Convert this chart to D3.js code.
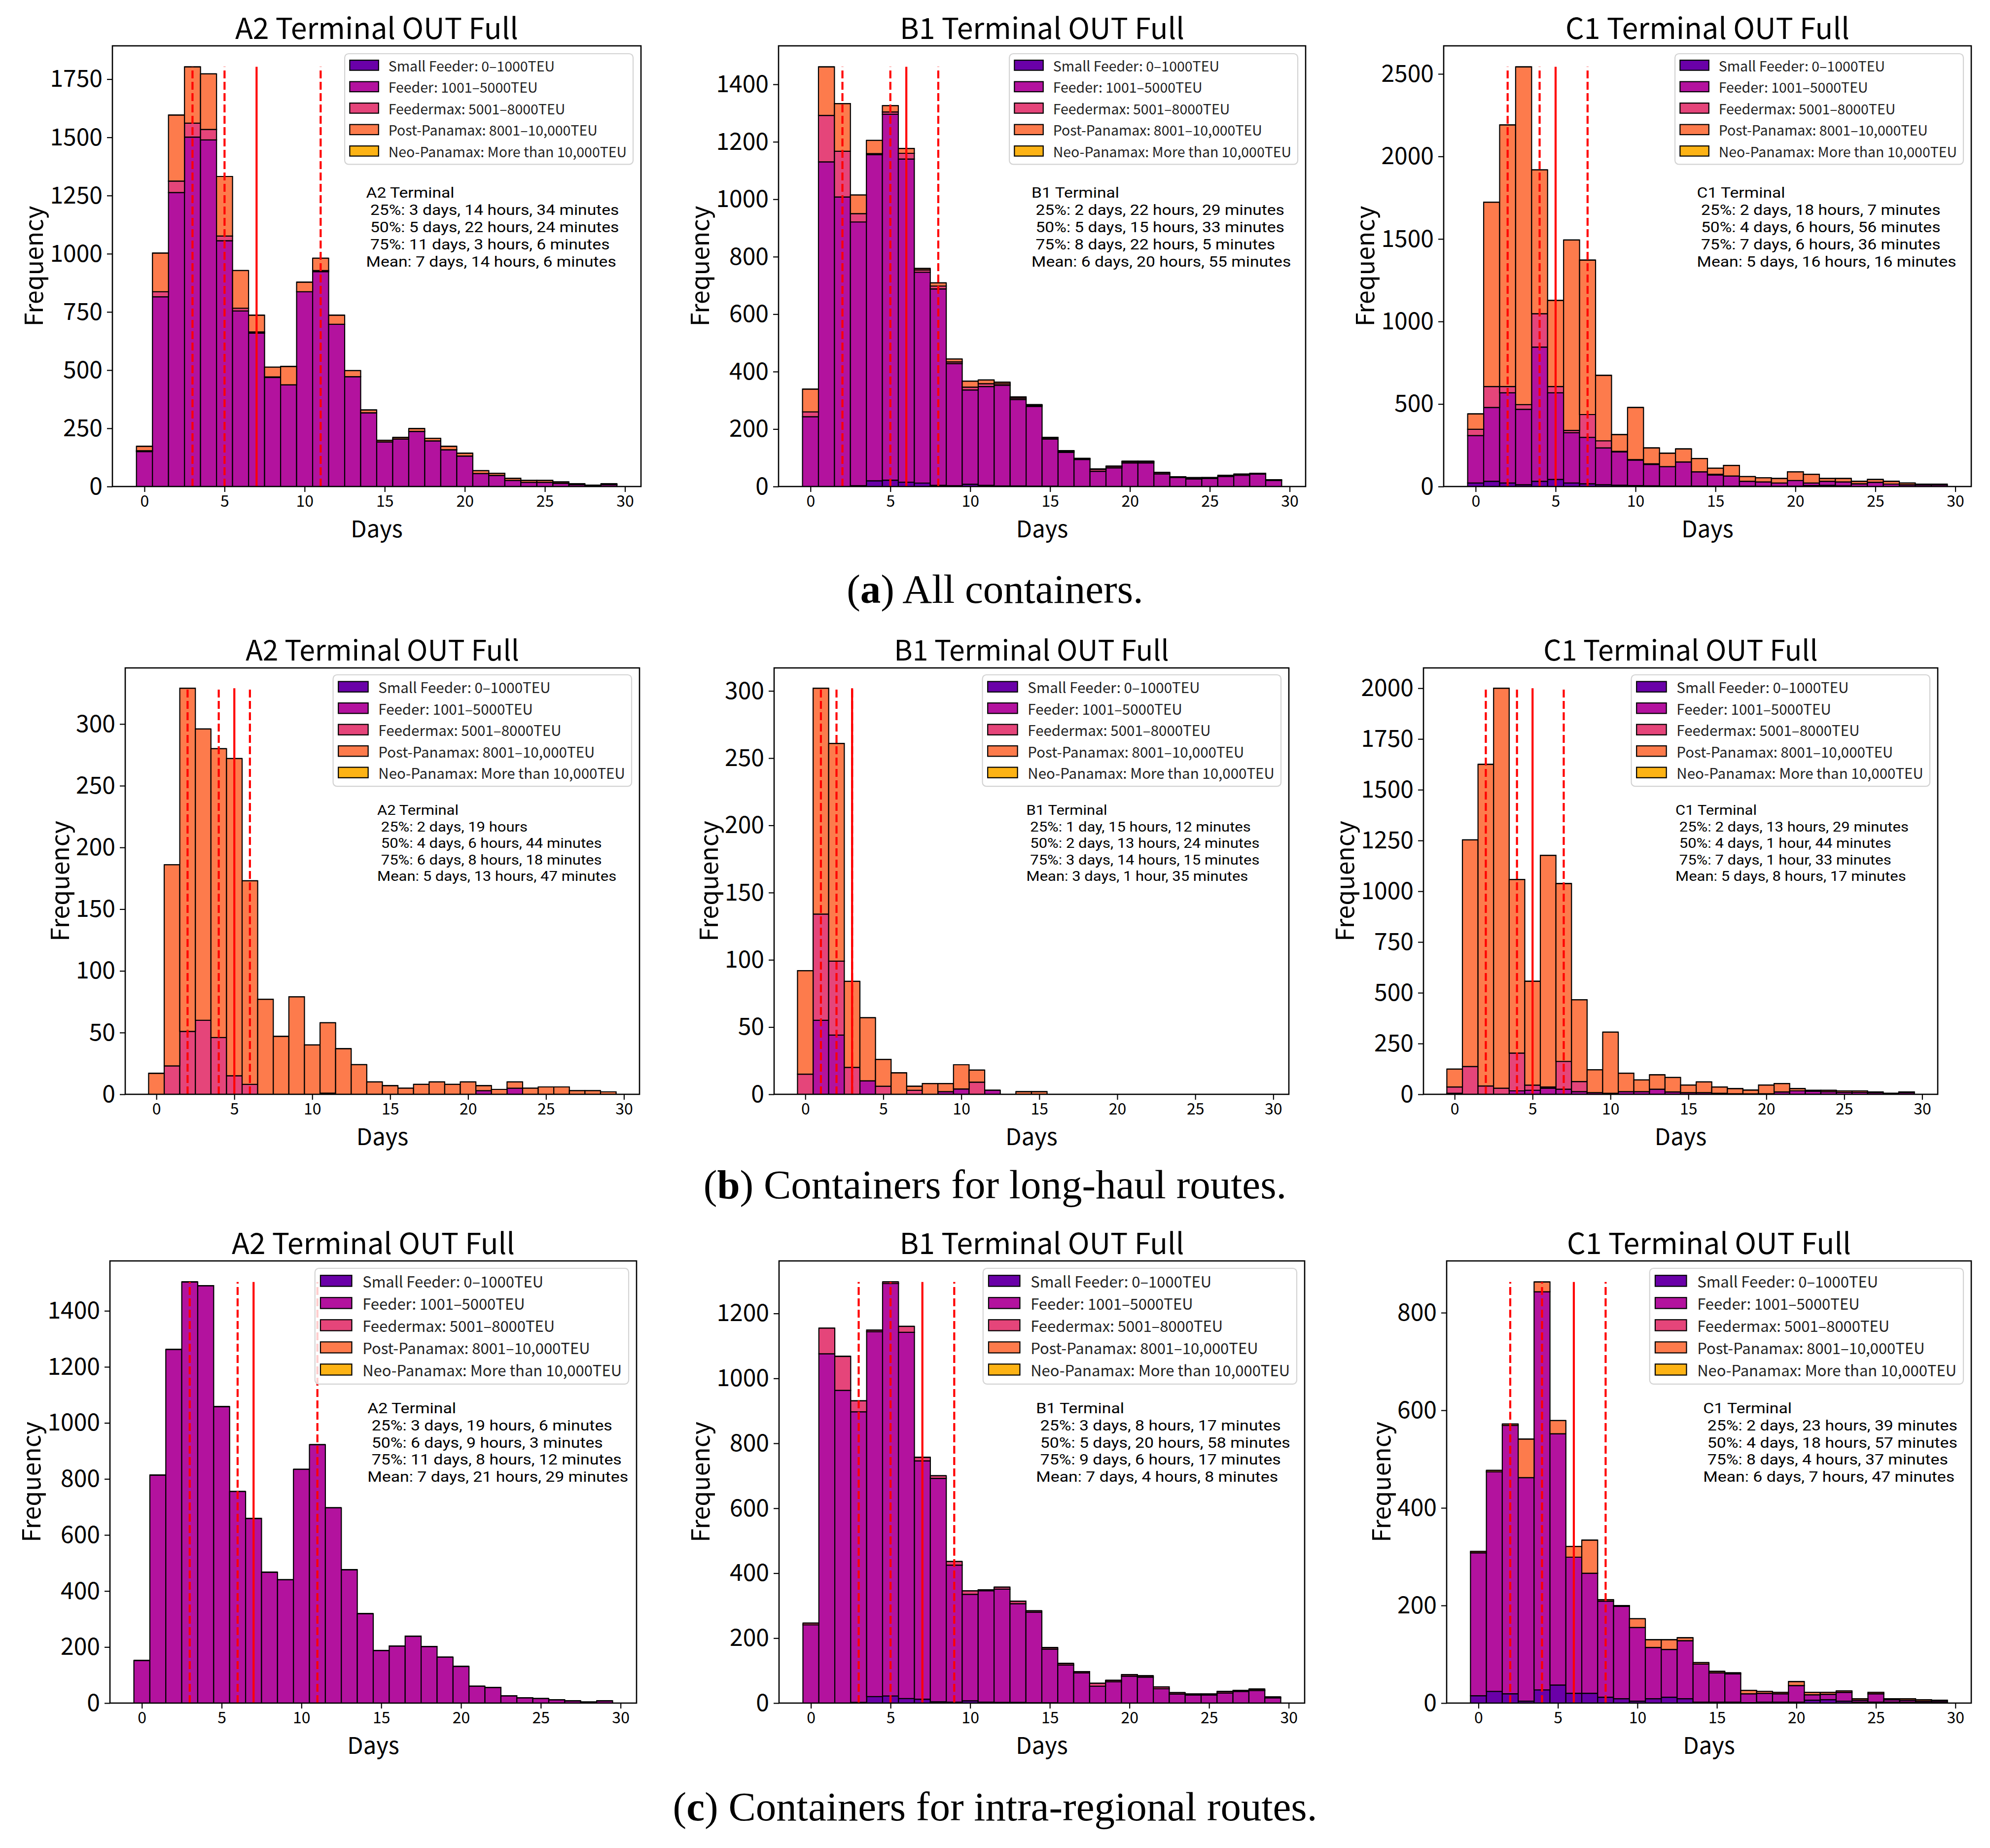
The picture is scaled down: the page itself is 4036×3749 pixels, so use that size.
<!DOCTYPE html>
<html><head><meta charset="utf-8">
<script src="https://cdn.jsdelivr.net/npm/d3@7"></script>
<style>body{margin:0;background:#fff}svg{display:block}</style>
</head><body>
<svg id="chart" width="4036" height="3749"></svg>
<script>
// ---------------- DATA ----------------
const bins = [0,1,2,3,4,5,6,7,8,9,10,11,12,13,14,15,16,17,18,19,20,21,22,23,24,25,26,27,28,29];
const xTicks = [0,5,10,15,20,25,30];
const seriesNames = ["Small Feeder: 0\u20131000TEU","Feeder: 1001\u20135000TEU","Feedermax: 5001\u20138000TEU","Post-Panamax: 8001\u201310,000TEU","Neo-Panamax: More than 10,000TEU"];
const none = [0,0,0,0,0,0,0,0,0,0,0,0,0,0,0,0,0,0,0,0,0,0,0,0,0,0,0,0,0,0];

// (a) All containers
const A2all_F  = [150,815,1263,1501,1489,1056,754,659,468,437,837,923,697,472,317,192,204,237,196,158,131,56,48,26,18,18,14,8,3,8];
const A2all_FM = [4,22,49,60,45,20,12,5,3,0,0,5,0,0,0,0,0,0,0,0,0,0,0,0,0,0,0,0,0,0];
const A2all_PP = [19,166,284,242,239,256,162,72,42,79,41,53,39,26,12,7,7,12,11,15,12,12,9,9,8,8,6,4,3,4];

const B1all_SF = [0,0,0,3,20,22,15,12,4,3,8,4,2,2,1,1,0,0,0,0,0,0,0,0,0,0,0,0,0,0];
const B1all_F  = [243,1130,1008,918,1135,1274,1125,734,684,425,328,344,350,301,278,164,119,94,53,65,82,82,44,31,26,28,35,39,43,21];
const B1all_FM = [17,162,159,29,4,8,20,8,10,6,10,10,5,5,4,4,4,3,7,5,5,5,5,3,3,3,4,4,3,3];
const B1all_PP = [79,169,166,65,46,22,17,5,11,10,21,13,6,4,2,2,2,1,1,1,1,1,0,0,2,0,0,0,0,0];

const C1all_SF = [21,32,21,11,32,43,21,17,11,8,6,4,3,3,3,2,2,2,1,1,2,6,7,4,0,0,0,0,0,0];
const C1all_F  = [288,447,547,457,813,525,305,281,223,201,154,130,118,146,86,68,62,30,27,20,34,15,25,24,17,26,15,11,9,9];
const C1all_FM = [38,127,38,28,202,38,14,138,43,4,3,4,0,0,0,4,0,0,0,0,0,0,0,0,0,0,0,0,0,0];
const C1all_PP = [93,1117,1585,2047,872,522,1154,936,397,102,316,96,81,79,81,37,64,28,25,28,53,53,17,21,15,17,17,10,6,6];

// (b) Long-haul routes
const A2long_F  = [0,0,0,0,0,0,0,0,0,0,0,1,0,0,0,0,0,0,0,0,0,3,0,5,0,0,0,0,0,0];
const A2long_FM = [0,23,51,60,46,15,8,0,0,0,0,0,0,0,0,0,0,0,0,0,0,0,0,0,0,0,0,0,0,0];
const A2long_PP = [17,163,278,236,234,257,165,77,47,79,40,57,37,24,10,7,5,8,10,8,10,4,4,5,5,6,6,3,3,2];

const B1long_F  = [0,55,44,0,10,0,0,0,0,2,4,0,3,0,0,0,0,0,0,0,0,0,0,0,0,0,0,0,0,0];
const B1long_FM = [15,79,55,20,0,6,0,3,0,0,0,9,0,0,0,0,0,0,0,0,0,0,0,0,0,0,0,0,0,0];
const B1long_PP = [77,168,162,64,47,20,16,3,8,6,18,9,0,0,2,2,0,0,0,0,0,0,0,0,0,0,0,0,0,0];

const C1long_F  = [5,0,0,0,17,20,30,25,13,8,5,13,13,25,12,8,8,5,3,2,3,12,17,15,13,10,10,8,3,8];
const C1long_FM = [31,137,41,30,186,25,6,137,50,0,0,0,0,0,0,0,0,0,0,0,0,0,0,0,0,0,0,0,0,0];
const C1long_PP = [88,1116,1584,1970,855,512,1141,876,403,113,301,91,58,71,71,38,53,31,25,19,43,41,11,5,7,7,7,4,2,4];

// (c) Intra-regional routes
const A2intra_F = [152,814,1262,1503,1490,1058,755,659,467,440,834,922,697,476,319,188,204,239,202,164,131,60,56,26,19,16,12,8,4,8];

const B1intra_SF = [0,0,0,2,20,22,14,12,4,3,7,3,2,2,1,1,0,0,0,0,0,0,0,0,0,0,0,0,0,0];
const B1intra_F  = [241,1076,963,895,1124,1270,1128,734,688,422,328,343,349,304,279,165,117,93,52,66,83,80,44,28,25,25,31,36,39,16];
const B1intra_FM = [5,79,105,34,5,5,18,11,8,11,11,3,6,8,4,5,5,4,9,4,5,4,6,4,3,3,5,3,4,3];

const C1intra_SF = [15,24,19,4,27,37,20,20,12,9,4,9,12,9,2,2,2,1,2,2,2,6,7,4,2,2,2,2,1,1];
const C1intra_F  = [293,450,550,458,816,515,279,246,197,189,151,105,98,119,78,60,58,18,18,17,34,11,11,18,4,17,5,4,3,3];
const C1intra_PP = [3,3,3,79,20,27,22,68,3,2,18,16,20,6,3,3,2,7,4,3,8,5,4,3,3,3,2,3,3,2];

// y tick labels
const yTicksA2all = [0,250,500,750,1000,1250,1500,1750];
const yTicksB1all = [0,200,400,600,800,1000,1200,1400];
const yTicksC1all = [0,500,1000,1500,2000,2500];
const yTicksA2long = [0,50,100,150,200,250,300];
const yTicksB1long = [0,50,100,150,200,250,300];
const yTicksC1long = [0,250,500,750,1000,1250,1500,1750,2000];
const yTicksA2intra = [0,200,400,600,800,1000,1200,1400];
const yTicksB1intra = [0,200,400,600,800,1000,1200];
const yTicksC1intra = [0,200,400,600,800];

// quantile / mean marker days [25%, 50%, 75%, mean]
const marksA2all = [3,5,11,7], marksB1all = [2,5,8,6], marksC1all = [2,4,7,5];
const marksA2long = [2,4,6,5], marksB1long = [1,2,3,3], marksC1long = [2,4,7,5];
const marksA2intra = [3,6,11,7], marksB1intra = [3,5,9,7], marksC1intra = [2,4,8,6];

const statsA2all = ["A2 Terminal"," 25%: 3 days, 14 hours, 34 minutes"," 50%: 5 days, 22 hours, 24 minutes"," 75%: 11 days, 3 hours, 6 minutes","Mean: 7 days, 14 hours, 6 minutes"];
const statsB1all = ["B1 Terminal"," 25%: 2 days, 22 hours, 29 minutes"," 50%: 5 days, 15 hours, 33 minutes"," 75%: 8 days, 22 hours, 5 minutes","Mean: 6 days, 20 hours, 55 minutes"];
const statsC1all = ["C1 Terminal"," 25%: 2 days, 18 hours, 7 minutes"," 50%: 4 days, 6 hours, 56 minutes"," 75%: 7 days, 6 hours, 36 minutes","Mean: 5 days, 16 hours, 16 minutes"];
const statsA2long = ["A2 Terminal"," 25%: 2 days, 19 hours"," 50%: 4 days, 6 hours, 44 minutes"," 75%: 6 days, 8 hours, 18 minutes","Mean: 5 days, 13 hours, 47 minutes"];
const statsB1long = ["B1 Terminal"," 25%: 1 day, 15 hours, 12 minutes"," 50%: 2 days, 13 hours, 24 minutes"," 75%: 3 days, 14 hours, 15 minutes","Mean: 3 days, 1 hour, 35 minutes"];
const statsC1long = ["C1 Terminal"," 25%: 2 days, 13 hours, 29 minutes"," 50%: 4 days, 1 hour, 44 minutes"," 75%: 7 days, 1 hour, 33 minutes","Mean: 5 days, 8 hours, 17 minutes"];
const statsA2intra = ["A2 Terminal"," 25%: 3 days, 19 hours, 6 minutes"," 50%: 6 days, 9 hours, 3 minutes"," 75%: 11 days, 8 hours, 12 minutes","Mean: 7 days, 21 hours, 29 minutes"];
const statsB1intra = ["B1 Terminal"," 25%: 3 days, 8 hours, 17 minutes"," 50%: 5 days, 20 hours, 58 minutes"," 75%: 9 days, 6 hours, 17 minutes","Mean: 7 days, 4 hours, 8 minutes"];
const statsC1intra = ["C1 Terminal"," 25%: 2 days, 23 hours, 39 minutes"," 50%: 4 days, 18 hours, 57 minutes"," 75%: 8 days, 4 hours, 37 minutes","Mean: 6 days, 7 hours, 47 minutes"];

const titles = ["A2 Terminal OUT Full","B1 Terminal OUT Full","C1 Terminal OUT Full"];
const captionLetters = ["a","b","c"];
const captionTexts = [" All containers."," Containers for long-haul routes."," Containers for intra-regional routes."];

// ---------------- PANEL TABLE ----------------
const panels = [
  {t:0, s:[none,A2all_F,A2all_FM,A2all_PP,none], yt:yTicksA2all, m:marksA2all, st:statsA2all},
  {t:1, s:[B1all_SF,B1all_F,B1all_FM,B1all_PP,none], yt:yTicksB1all, m:marksB1all, st:statsB1all},
  {t:2, s:[C1all_SF,C1all_F,C1all_FM,C1all_PP,none], yt:yTicksC1all, m:marksC1all, st:statsC1all},
  {t:0, s:[none,A2long_F,A2long_FM,A2long_PP,none], yt:yTicksA2long, m:marksA2long, st:statsA2long},
  {t:1, s:[none,B1long_F,B1long_FM,B1long_PP,none], yt:yTicksB1long, m:marksB1long, st:statsB1long},
  {t:2, s:[none,C1long_F,C1long_FM,C1long_PP,none], yt:yTicksC1long, m:marksC1long, st:statsC1long},
  {t:0, s:[none,A2intra_F,none,none,none], yt:yTicksA2intra, m:marksA2intra, st:statsA2intra},
  {t:1, s:[B1intra_SF,B1intra_F,B1intra_FM,none,none], yt:yTicksB1intra, m:marksB1intra, st:statsB1intra},
  {t:2, s:[C1intra_SF,C1intra_F,none,C1intra_PP,none], yt:yTicksC1intra, m:marksC1intra, st:statsC1intra}
];

// ---------------- LAYOUT / STYLE ----------------
const FONT = "'Noto Sans CJK JP','Noto Sans',sans-serif";
const STATFONT = "Roboto,'Noto Sans',sans-serif";
const colors = ["#6a00a8","#b3129e","#e5457a","#fd7b4c","#fdb315"];
const frames = [
  [228,93,1300,987],[1579,93,2648,987],[2928,93,3998,987],
  [254,1355,1297,2220],[1570,1355,2614,2220],[2887,1355,3930,2220],
  [223,2558,1291,3455],[1580,2558,2646,3455],[2934,2558,3998,3455]];
const rowStyle = [
  {leg:28.5, legSp:43.5, legTop:16, statFrac:0.48, statSp:35, statFs:29.5, statSx:1.14, title:59},
  {leg:29.5, legSp:43.5, legTop:14, statFrac:0.49, statSp:33.4, statFs:28.2, statSx:1.10, title:57},
  {leg:31, legSp:45, legTop:15, statFrac:0.489, statSp:34.6, statFs:29.4, statSx:1.15, title:59}];
const captionY = [1223, 2431, 3693];

const svg = d3.select("#chart");
svg.append("rect").attr("width",4036).attr("height",3749).attr("fill","#fff");

panels.forEach((p,i)=>{
  const [x0,y0,x1,y1] = frames[i];
  const rs = rowStyle[Math.floor(i/3)];
  const g = svg.append("g");
  const x = d3.scaleLinear().domain([bins[0]-0.5-1.5, bins[bins.length-1]+0.5+1.5]).range([x0,x1]);
  const totals = bins.map((b,k)=>d3.sum(p.s, s=>s[k]));
  const maxT = d3.max(totals);
  const y = d3.scaleLinear().domain([0, maxT*1.05]).range([y1,y0]);

  const rows = bins.map((b,k)=>{const o={bin:b}; p.s.forEach((s,j)=>o["s"+j]=s[k]); return o;});
  const stacked = d3.stack().keys([0,1,2,3,4].map(j=>"s"+j))(rows);

  stacked.forEach((layer,j)=>{
    g.append("g").selectAll("path").data(layer).join("path")
      .attr("d", d=>{
        const xa=x(d.data.bin-0.5), xb=x(d.data.bin+0.5), ya=y(d[0]), yb=y(d[1]);
        return `M${xa},${ya}H${xb}V${yb}H${xa}Z`;
      })
      .attr("fill", colors[j]).attr("stroke","#000").attr("stroke-width",2.2)
      .attr("stroke-linejoin","miter");
  });

  // quantile and mean lines
  p.m.forEach((d,k)=>{
    g.append("line").attr("x1",x(d)).attr("x2",x(d)).attr("y1",y(0)).attr("y2",y(maxT))
      .attr("stroke","#ff0000").attr("stroke-width",4.2)
      .attr("stroke-dasharray", k<3 ? "16,7" : null);
  });

  // axes
  const gx = g.append("g").attr("transform",`translate(0,${y1})`)
    .call(d3.axisBottom(x).tickValues(xTicks).tickSize(11).tickPadding(7).tickFormat(d3.format("d")));
  gx.attr("font-family",FONT).attr("font-size",32);
  gx.select(".domain").remove();
  gx.selectAll("line").attr("stroke","#000").attr("stroke-width",2.2);
  gx.selectAll("text").attr("fill","#000");

  const gy = g.append("g").attr("transform",`translate(${x0},0)`)
    .call(d3.axisLeft(y).tickValues(p.yt).tickSize(11).tickPadding(9).tickFormat(d3.format("d")));
  gy.attr("font-family",FONT).attr("font-size",48);
  gy.select(".domain").remove();
  gy.selectAll("line").attr("stroke","#000").attr("stroke-width",2.2);
  gy.selectAll("text").attr("fill","#000");

  g.append("rect").attr("x",x0).attr("y",y0).attr("width",x1-x0).attr("height",y1-y0)
    .attr("fill","none").attr("stroke","#000").attr("stroke-width",2.6);

  const bb = gy.node().getBBox();
  g.append("text").attr("transform",`translate(${x0+bb.x-36},${(y0+y1)/2}) rotate(-90)`)
    .attr("text-anchor","middle").attr("dominant-baseline","central")
    .attr("font-family",FONT).attr("font-size",50).text("Frequency");
  g.append("text").attr("x",(x0+x1)/2).attr("y",y1+82).attr("text-anchor","middle")
    .attr("dominant-baseline","central").attr("font-family",FONT).attr("font-size",47).text("Days");
  g.append("text").attr("x",(x0+x1)/2).attr("y",y0-40).attr("text-anchor","middle")
    .attr("dominant-baseline","central").attr("font-family",FONT).attr("font-size",rs.title).text(titles[p.t]);

  // stats text
  const sx = x0 + rs.statFrac*(x1-x0);
  p.st.forEach((line,k)=>{
    const cy = y0+0.334*(y1-y0)+k*rs.statSp;
    g.append("text").attr("transform",`translate(${sx},${cy}) scale(${rs.statSx},1)`)
      .attr("x",0).attr("y",0)
      .attr("dominant-baseline","central").attr("font-family",STATFONT).attr("font-size",rs.statFs)
      .attr("fill","#000").text(line.replace(/^ /,"\u00A0"));
  });

  // legend
  const fs = rs.leg;
  const lg = g.append("g");
  const box = lg.append("rect");
  const hw = fs*2.05, hh = fs*0.72, padL = fs*0.36, gap = fs*0.7, padR = fs*0.45, padT = fs*0.82, padB = fs*0.95;
  let maxW = 0;
  const texts = seriesNames.map((nm,k)=>{
    const t = lg.append("text").attr("font-family",FONT).attr("font-size",fs)
      .attr("dominant-baseline","central").attr("fill","#222").text(nm);
    maxW = Math.max(maxW, t.node().getComputedTextLength());
    return t;
  });
  const W = padL+hw+gap+maxW+padR;
  const H = padT + 4*rs.legSp + padB;
  const lx = x1 - 16 - W, ly = y0 + rs.legTop;
  box.attr("x",lx).attr("y",ly).attr("width",W).attr("height",H).attr("rx",8)
    .attr("fill","#fff").attr("fill-opacity",0.8).attr("stroke","#d3d3d3").attr("stroke-width",2.2);
  seriesNames.forEach((nm,k)=>{
    const cy = ly+padT+k*rs.legSp;
    lg.append("rect").attr("x",lx+padL).attr("y",cy-hh/2).attr("width",hw).attr("height",hh)
      .attr("fill",colors[k]).attr("stroke","#000").attr("stroke-width",2.2);
    texts[k].attr("x",lx+padL+hw+gap).attr("y",cy);
  });
});

// captions
captionLetters.forEach((L,i)=>{
  const t = svg.append("text").attr("x",2018).attr("y",captionY[i]).attr("text-anchor","middle")
    .attr("font-family","'Liberation Serif','DejaVu Serif',serif").attr("font-size",83).attr("fill","#000");
  t.append("tspan").text("(");
  t.append("tspan").attr("font-weight","bold").text(L);
  t.append("tspan").text(")"+captionTexts[i]);
});
</script>
</body></html>
